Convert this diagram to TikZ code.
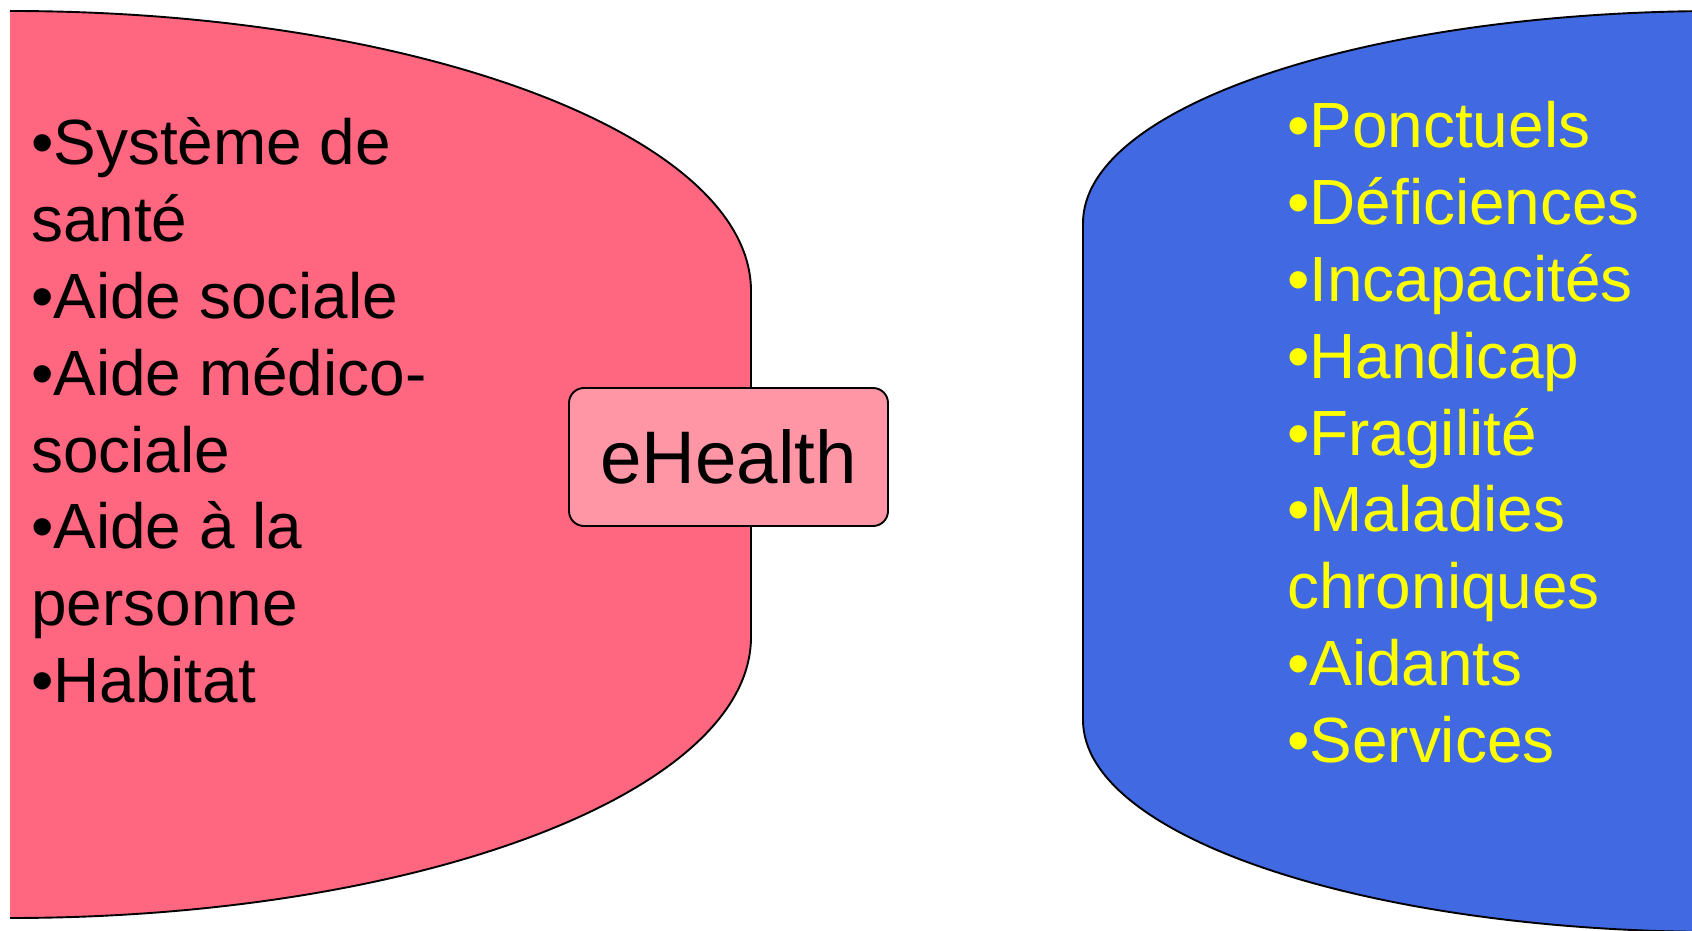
\documentclass[tikz,border=0pt]{standalone}
\usepackage{fontspec}
\setmainfont{Liberation Sans}
\definecolor{leftred}{HTML}{FF6680}
\definecolor{boxpink}{HTML}{FF96A6}
\definecolor{rightblue}{HTML}{4169E1}
\definecolor{listyellow}{HTML}{FFFF00}
\tikzset{
  outline/.style={draw=black, line width=1.9pt},
  listtext/.style={anchor=base west, inner sep=0pt, font=\fontsize{63.9}{76.8}\selectfont},
  tagbox/.style={draw=black, line width=1.9pt, fill=boxpink, rounded corners=15pt,
    minimum width=319pt, minimum height=138pt, inner sep=0pt,
    font=\fontsize{74.5}{80}\selectfont}
}
\begin{document}
\begin{tikzpicture}[x=1pt,y=1pt]
\useasboundingbox (0,0) rectangle (1692,930);
\clip (0,0) rectangle (1692,930);
% left shape
\fill[leftred] (10,919) arc[start angle=90, end angle=0, x radius=741pt, y radius=280pt]
  -- (751,293) arc[start angle=0, end angle=-90, x radius=741pt, y radius=281pt] -- cycle;
\draw[outline] (10,919) arc[start angle=90, end angle=0, x radius=741pt, y radius=280pt]
  -- (751,293) arc[start angle=0, end angle=-90, x radius=741pt, y radius=281pt];
% right shape
\draw[outline, fill=rightblue] (1720,919) arc[start angle=90, end angle=180, x radius=637pt, y radius=212pt]
  -- (1083,210) arc[start angle=180, end angle=270, x radius=637pt, y radius=212pt]
  -- (1760,-2) -- (1760,919) -- cycle;
% left list
\node[listtext] (leftlist) at (31,765) {\vtop{%
  \hbox{•Système de}
  \hbox{santé}
  \hbox{•Aide sociale}
  \hbox{•Aide médico-}
  \hbox{sociale}
  \hbox{•Aide à la}
  \hbox{personne}
  \hbox{•Habitat}}};
% right list
\node[listtext, text=listyellow] (rightlist) at (1287,782) {\vtop{%
  \hbox{•Ponctuels}
  \hbox{•Déficiences}
  \hbox{•Incapacités}
  \hbox{•Handicap}
  \hbox{•Fragilité}
  \hbox{•Maladies}
  \hbox{chroniques}
  \hbox{•Aidants}
  \hbox{•Services}}};
% eHealth box
\node[tagbox] (ehealth) at (728.5,473) {\raisebox{-6pt}{eHealth}};
\end{tikzpicture}
\end{document}
